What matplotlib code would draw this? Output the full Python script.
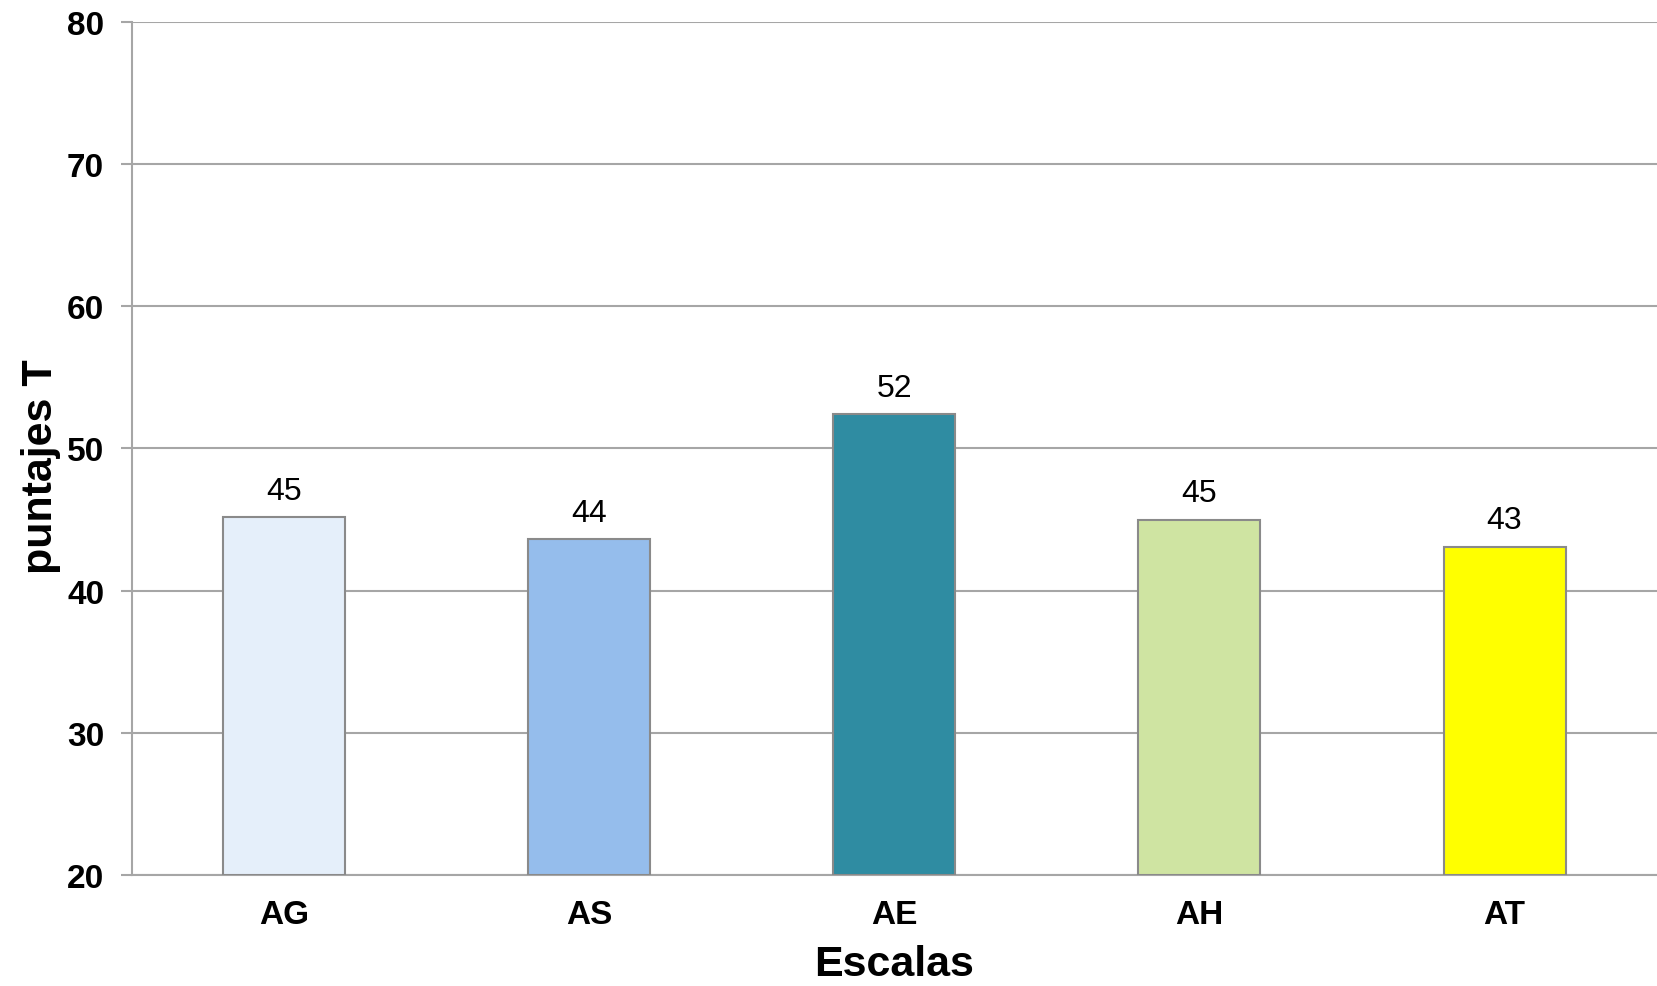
"""
Puntajes T por escala: grafico de barras con etiquetas de valor.
"""

import matplotlib
matplotlib.use("Agg")
import matplotlib.pyplot as plt
import numpy as np

escalas = ["AG", "AS", "AE", "AH", "AT"]
puntajes = [45.2, 43.6, 52.4, 45.0, 43.1]
etiquetas = ["45", "44", "52", "45", "43"]
colores = ["#E5EFFA", "#95BDEC", "#2F8CA2", "#CFE4A2", "#FFFF00"]

plt.rcParams["font.family"] = ["Liberation Sans", "DejaVu Sans"]

fig = plt.figure(figsize=(16.58, 9.87), dpi=100)
ax = fig.add_axes([0.0796, 0.1125, 0.9198, 0.8642])

x = np.arange(len(escalas))
base = 20
ax.bar(x, np.array(puntajes) - base, bottom=base, width=0.40,
       color=colores, edgecolor="#8A8A8A", linewidth=1.5, zorder=3)

for xi, v, t in zip(x, puntajes, etiquetas):
    ax.annotate(t, (xi, v), xytext=(0, 8), textcoords="offset points",
                ha="center", va="bottom", fontsize=23, color="black")

ax.set_xlim(-0.5, 4.5)
ax.set_ylim(20, 80)
ax.set_yticks(range(20, 81, 10))
ax.set_xticks(x)
ax.set_xticklabels(escalas, fontsize=24, fontweight="bold")
for lab in ax.get_yticklabels():
    lab.set_fontsize(24)
    lab.set_fontweight("bold")

ax.grid(axis="y", color="#A6A6A6", linewidth=1.5, zorder=0)
for s in ["top", "right"]:
    ax.spines[s].set_visible(False)
ax.spines["left"].set_color("#A6A6A6")
ax.spines["left"].set_linewidth(1.5)
ax.spines["bottom"].set_color("#A6A6A6")
ax.spines["bottom"].set_linewidth(1.5)
ax.tick_params(axis="y", length=8, width=1.5, color="#A6A6A6", pad=12)
ax.tick_params(axis="x", length=0, pad=17)

# etiquetas de ejes colocadas a mano para que no se corten
fig.text(0.539, 0.022, "Escalas", fontsize=31, fontweight="bold",
         ha="center", va="center")
fig.text(0.025, 0.527, "puntajes T", fontsize=31, fontweight="bold",
         rotation=90, ha="center", va="center")

fig.savefig("out.png", dpi=100)
plt.close(fig)
